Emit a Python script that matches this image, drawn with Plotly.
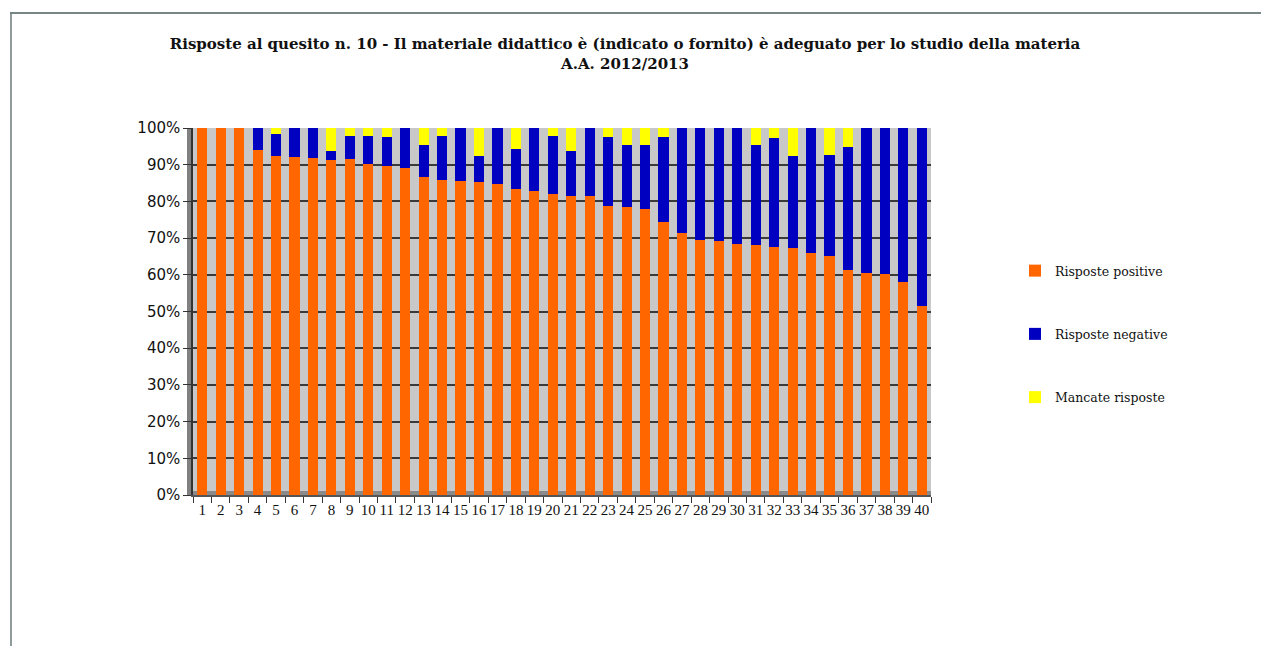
import plotly.graph_objects as go

categories = [str(i) for i in range(1, 41)]

positive = [100, 100, 100, 93.9, 92.3, 92.0, 91.9, 91.4, 91.6, 90.2,
            89.6, 89.0, 86.6, 85.9, 85.6, 85.3, 84.8, 83.4, 82.9, 82.1,
            81.5, 81.5, 78.8, 78.4, 77.9, 74.5, 71.5, 69.6, 69.3, 68.4,
            68.0, 67.5, 67.2, 66.0, 65.2, 61.3, 60.4, 60.2, 58.0, 51.5]

negative = [0, 0, 0, 6.1, 6.1, 8.0, 8.1, 2.4, 6.3, 7.5,
            7.9, 11.0, 8.7, 11.8, 14.4, 7.2, 15.2, 10.9, 17.1, 15.6,
            12.3, 18.5, 18.7, 17.1, 17.4, 23.0, 28.5, 30.4, 30.7, 31.6,
            27.4, 29.7, 25.1, 34.0, 27.4, 33.4, 39.6, 39.8, 42.0, 48.5]

missing = [round(100 - p - n, 1) for p, n in zip(positive, negative)]

y_ticks = list(range(0, 101, 10))
y_labels = [f"{v}%" for v in y_ticks]

series_names = ["Risposte positive", "Risposte negative", "Mancate risposte"]
colors = ["#FF6600", "#0000C0", "#FFFF00"]

fig = go.Figure()
for name, vals, col, grp in zip(series_names, [positive, negative, missing], colors, ["a", "b", "c"]):
    fig.add_trace(go.Bar(
        x=categories, y=vals, name=name, marker_color=col,
        marker_line_width=0, legendgroup=grp,
    ))

OFF = 8  # page body margin
W, H = 1269 - OFF, 646 - OFF
L, R, T, B = 193 - OFF, 931 - OFF, 128 - OFF, 495 - OFF


def px_to_paper_x(px):
    return (px - OFF - L) / (R - L)


def px_to_paper_y(py):
    return (B - (py - OFF)) / (B - T)


shapes = [
    # left 3D wall
    dict(type="rect", xref="paper", yref="paper", x0=px_to_paper_x(187), x1=0,
         y0=0, y1=1, fillcolor="#808080", line_width=0, layer="below"),
    # floor
    dict(type="rect", xref="paper", yref="paper", x0=0, x1=1,
         y0=0, y1=px_to_paper_y(491), fillcolor="#8a8a8a", line_width=0, layer="below"),
    # page frame lines
    dict(type="line", xref="paper", yref="paper", x0=px_to_paper_x(10), x1=px_to_paper_x(1269),
         y0=px_to_paper_y(13), y1=px_to_paper_y(13), line=dict(color="#4d5e5e", width=1.5)),
    dict(type="line", xref="paper", yref="paper", x0=px_to_paper_x(11), x1=px_to_paper_x(11),
         y0=px_to_paper_y(13), y1=px_to_paper_y(646), line=dict(color="#6c7a7a", width=1.5)),
]

fig.update_layout(
    width=W, height=H,
    margin=dict(l=L, r=W - R, t=T, b=H - B, pad=0),
    paper_bgcolor="white",
    plot_bgcolor="#C8C8C8",
    barmode="stack",
    bargap=0.45,
    title=dict(
        text="Risposte al quesito n. 10 - Il materiale didattico è (indicato o fornito) è adeguato per lo studio della materia<br>A.A. 2012/2013",
        x=(625 - OFF) / W, xref="container", xanchor="center",
        y=1 - (49 - OFF) / H, yref="container", yanchor="top",
        font=dict(family="DejaVu Serif", size=15, color="#111111", weight="bold"),
    ),
    legend=dict(
        x=px_to_paper_x(1015), y=px_to_paper_y(256), xanchor="left", yanchor="top",
        traceorder="grouped", tracegroupgap=44,
        font=dict(family="DejaVu Serif", size=12.5, color="#111111"),
        bgcolor="rgba(0,0,0,0)", itemwidth=30,
    ),
    xaxis=dict(
        type="category", tickangle=0, tickson="boundaries",
        ticks="outside", ticklen=6, tickcolor="#333333",
        showgrid=False, showline=True, linecolor="#555555", linewidth=1.5,
        tickfont=dict(family="Liberation Serif", size=15, color="#111111"),
    ),
    yaxis=dict(
        range=[0, 100], tickvals=y_ticks, ticktext=y_labels,
        ticks="outside", ticklen=8, tickcolor="#333333",
        showgrid=True, gridcolor="#3a3a3a", gridwidth=1.5,
        showline=True, linecolor="#333333", linewidth=1.5,
        zeroline=False,
        tickfont=dict(family="DejaVu Sans", size=15, color="#111111"),
    ),
    shapes=shapes,
)

fig.write_html("out.html")
